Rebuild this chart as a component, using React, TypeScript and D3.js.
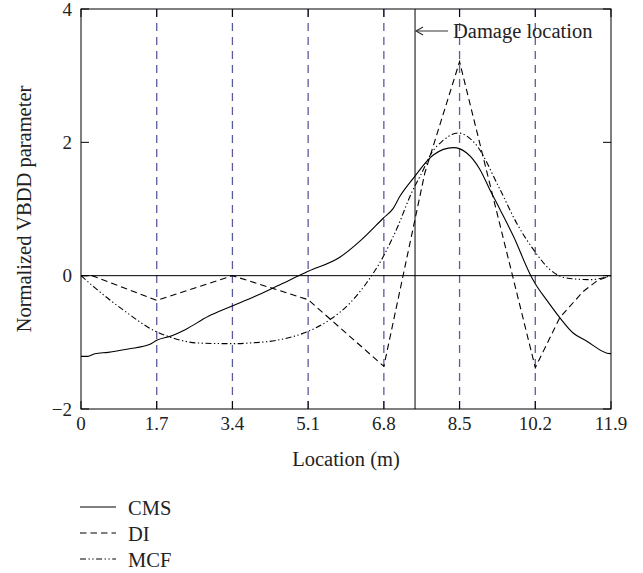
import React from "react";
import * as d3 from "d3";

const xTicks = [0, 1.7, 3.4, 5.1, 6.8, 8.5, 10.2, 11.9];
const xTickLabels = ["0", "1.7", "3.4", "5.1", "6.8", "8.5", "10.2", "11.9"];
const yTicks = [-2, 0, 2, 4];
const yTickLabels = ["\u22122", "0", "2", "4"];
const sensorLocations = [1.7, 3.4, 5.1, 6.8, 8.5, 10.2];
const damageLocation = 7.5;

const cmsX = [0, 0.15, 0.31, 0.61, 1.06, 1.55, 1.7, 2.04, 2.34, 2.86, 3.38, 3.91, 4.39, 5.1, 5.82, 6.3, 6.79, 7.01, 7.16, 7.46, 7.91, 8.36, 8.66, 8.96, 9.18, 9.41, 9.71, 10.1, 10.2, 10.45, 10.75, 11.05, 11.35, 11.88, 11.9];
const cmsY = [-1.21, -1.21, -1.17, -1.15, -1.1, -1.03, -0.97, -0.9, -0.81, -0.61, -0.46, -0.31, -0.16, 0.065, 0.28, 0.54, 0.865, 1.01, 1.19, 1.46, 1.81, 1.92, 1.84, 1.59, 1.29, 0.99, 0.59, 0.0, -0.12, -0.36, -0.63, -0.86, -0.98, -1.17, -1.17];

const diX = [0, 0.25, 1.7, 3.4, 5.1, 6.8, 7.72, 8.5, 10.2, 10.75, 11.27, 11.6, 11.9];
const diY = [0, 0, -0.37, 0, -0.36, -1.36, 1.54, 3.21, -1.38, -0.63, -0.24, -0.07, 0];

const mcfX = [0, 0.31, 0.99, 1.66, 2.04, 2.63, 3.38, 3.79, 4.39, 5.1, 5.59, 6.04, 6.41, 6.79, 7.12, 7.42, 7.65, 7.87, 8.1, 8.47, 8.85, 9.41, 9.78, 10.16, 10.53, 10.9, 11.43, 11.9];
const mcfY = [0, -0.18, -0.535, -0.83, -0.93, -1.01, -1.02, -1.01, -0.97, -0.835, -0.66, -0.41, -0.11, 0.29, 0.75, 1.24, 1.54, 1.84, 2.01, 2.14, 1.98, 1.29, 0.79, 0.39, 0.09, -0.035, -0.06, 0];

const seriesNames = ["CMS", "DI", "MCF"];

const W = 643;
const H = 573;
const left = 81, right = 611, top = 9, bottom = 409;
const font = "'Liberation Serif', 'Times New Roman', serif";
const tickFont = 19;
const labelFont = 20.5;

export default function App() {
  const x = d3.scaleLinear().domain([0, 11.9]).range([left, right]);
  const y = d3.scaleLinear().domain([-2, 4]).range([bottom, top]);
  const line = d3
    .line<[number, number]>()
    .x((d) => x(d[0]))
    .y((d) => y(d[1]));
  const smooth = d3
    .line<[number, number]>()
    .x((d) => x(d[0]))
    .y((d) => y(d[1]))
    .curve(d3.curveMonotoneX);

  const zip = (a: number[], b: number[]) => a.map((v, i) => [v, b[i]] as [number, number]);

  const series = [
    { name: seriesNames[0], d: smooth(zip(cmsX, cmsY)), dash: "none" },
    { name: seriesNames[1], d: line(zip(diX, diY)), dash: "6.5,4" },
    { name: seriesNames[2], d: smooth(zip(mcfX, mcfY)), dash: "6,2.5,1.3,2.5,1.3,2.5" },
  ];

  const tickLen = 8;
  const dmgX = x(damageLocation);

  return (
    <div style={{ position: "absolute", left: 0, top: 0 }}>
      <svg width={W} height={H} style={{ display: "block", background: "#fff" }} fontFamily={font}>
        <rect x={0} y={0} width={W} height={H} fill="#fff" />
        {sensorLocations.map((s) => (
          <line key={s} x1={x(s)} x2={x(s)} y1={top} y2={bottom} stroke="#5a5a9c" strokeWidth={1.3} strokeDasharray="8,6" />
        ))}
        <line x1={left} x2={right} y1={y(0)} y2={y(0)} stroke="#000" strokeWidth={1} />
        <line x1={dmgX} x2={dmgX} y1={top} y2={bottom} stroke="#000" strokeWidth={1} />
        {series.map((s) => (
          <path key={s.name} d={s.d || ""} fill="none" stroke="#000" strokeWidth={1.1} strokeDasharray={s.dash} />
        ))}
        <rect x={left} y={top} width={right - left} height={bottom - top} fill="none" stroke="#000" strokeWidth={1} />
        {yTicks.map((t) => (
          <g key={"yt" + t}>
            <line x1={left} x2={left + tickLen} y1={y(t)} y2={y(t)} stroke="#000" />
            <line x1={right} x2={right - tickLen} y1={y(t)} y2={y(t)} stroke="#000" />
          </g>
        ))}
        {xTicks.map((t) => (
          <g key={"xt" + t}>
            <line x1={x(t)} x2={x(t)} y1={bottom} y2={bottom - tickLen} stroke="#000" />
            <line x1={x(t)} x2={x(t)} y1={top} y2={top + tickLen} stroke="#000" />
          </g>
        ))}
        {yTicks.map((t, i) => (
          <text key={"yl" + t} x={72} y={y(t) + 6.5} textAnchor="end" fontSize={tickFont} fill="#222">
            {yTickLabels[i]}
          </text>
        ))}
        {xTicks.map((t, i) => (
          <text key={"xl" + t} x={x(t)} y={430} textAnchor="middle" fontSize={tickFont} fill="#222">
            {xTickLabels[i]}
          </text>
        ))}
        <text x={(left + right) / 2} y={466} textAnchor="middle" fontSize={labelFont} fill="#222">
          Location (m)
        </text>
        <text transform={`translate(31,${(top + bottom) / 2}) rotate(-90)`} textAnchor="middle" fontSize={labelFont} fill="#222">
          Normalized VBDD parameter
        </text>
        <line x1={dmgX + 1} x2={dmgX + 33} y1={31} y2={31} stroke="#333" strokeWidth={1.2} />
        <path d={`M${dmgX + 8},${27} L${dmgX + 1},${31} L${dmgX + 8},${35}`} fill="none" stroke="#333" strokeWidth={1.2} />
        <text x={453} y={38} fontSize={labelFont} fill="#222">
          Damage location
        </text>
        {series.map((s, i) => (
          <g key={"lg" + s.name}>
            <line x1={80} x2={116} y1={507 + i * 26} y2={507 + i * 26} stroke="#000" strokeWidth={1.1} strokeDasharray={s.dash} />
            <text x={128} y={515 + i * 26} fontSize={labelFont} fill="#222">
              {s.name}
            </text>
          </g>
        ))}
      </svg>
    </div>
  );
}
